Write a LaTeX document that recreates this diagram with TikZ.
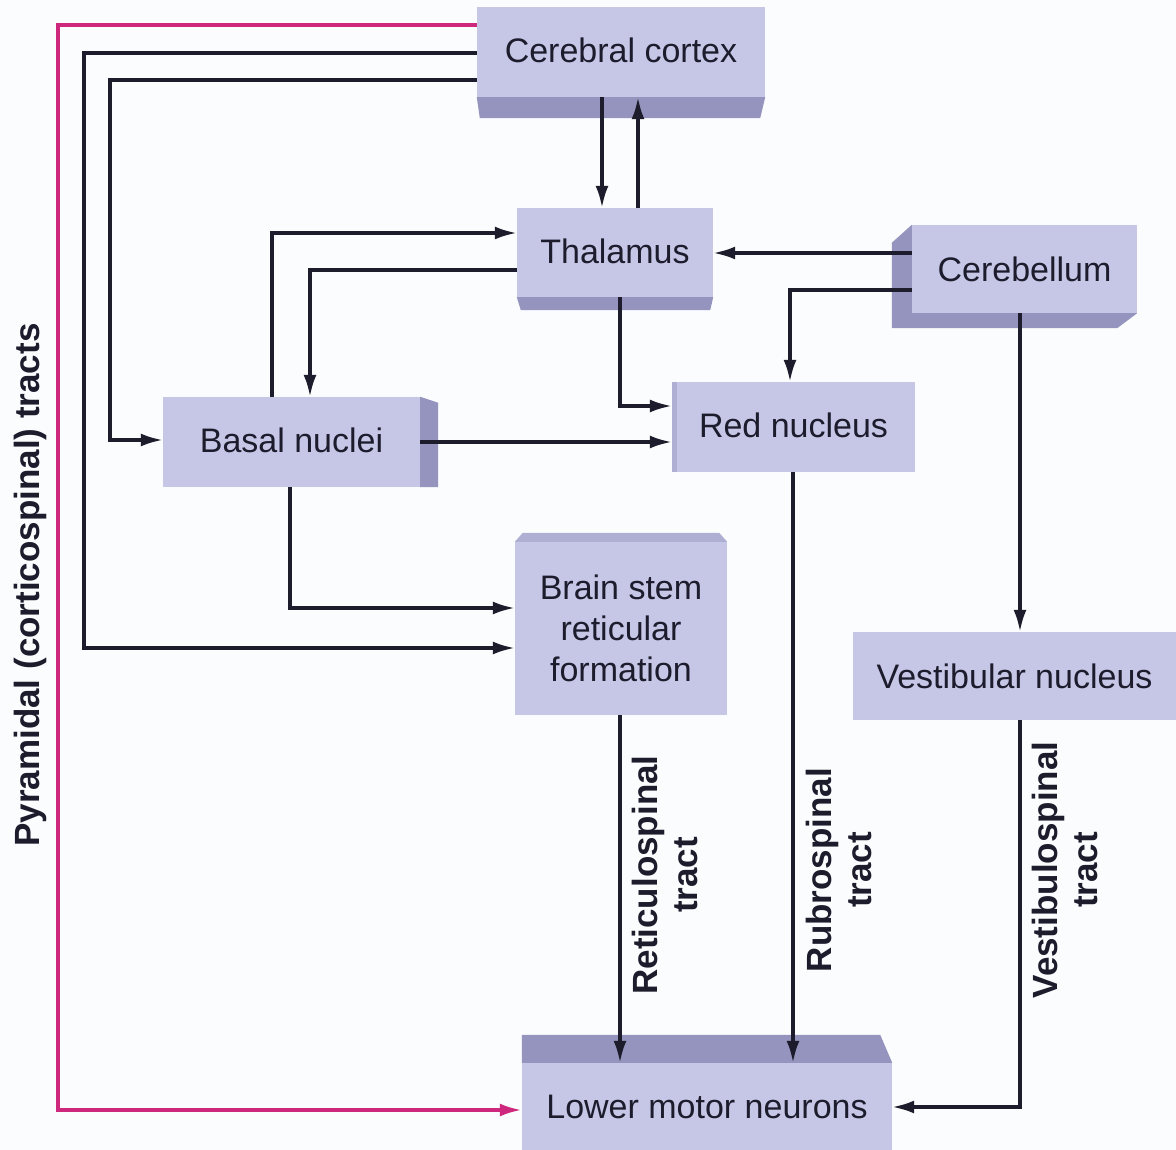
\documentclass[tikz,border=0pt]{standalone}
\usepackage{fontspec}
\setmainfont{Liberation Sans}
\usetikzlibrary{arrows.meta,calc}
\definecolor{face}{RGB}{198,198,231}
\definecolor{side}{RGB}{148,148,190}
\definecolor{edge}{RGB}{175,175,212}
\definecolor{ink}{RGB}{28,28,45}
\definecolor{pinkline}{RGB}{205,40,125}
\definecolor{bg}{RGB}{251,252,253}
\tikzset{
  box/.style={fill=face, draw=none, inner sep=0pt, align=center, text=ink,
    font=\fontsize{34}{41}\selectfont},
  sideface/.style={fill=side, draw=none},
  ar/.style={draw=ink, line width=3.2pt, -{Latex[length=22pt,width=13pt]}},
  pk/.style={draw=pinkline, line width=3.5pt, -{Latex[length=22pt,width=13pt]}},
  tractlabel/.style={rotate=90, align=center, text=ink, inner sep=0pt,
    font=\bfseries\fontsize{35}{40}\selectfont}
}
\begin{document}
\begin{tikzpicture}[x=1pt,y=-1pt]
\useasboundingbox[fill=bg] (0,0) rectangle (1176,1150);

% boxes
\node[box, minimum width=288pt, minimum height=90pt] (cortex) at (621,52) {\raisebox{3pt}{Cerebral cortex}};
\fill[sideface] (cortex.south west) -- (cortex.south east) -- ($(cortex.south east)+(-5,21)$) -- ($(cortex.south west)+(3,21)$) -- cycle;

\node[box, minimum width=196pt, minimum height=89pt] (th) at (615,252.5) {\raisebox{3pt}{Thalamus}};
\fill[sideface] (th.south west) -- (th.south east) -- ($(th.south east)+(-3,13)$) -- ($(th.south west)+(4,13)$) -- cycle;

\node[box, minimum width=225pt, minimum height=88pt] (cb) at (1024.5,269) {Cerebellum};
\fill[sideface] (cb.north west) -- ($(cb.north west)+(-20,18)$) -- ($(cb.south west)+(-20,15)$) -- ($(cb.south east)+(-20,15)$) -- (cb.south east) -- (cb.south west) -- cycle;

\node[box, minimum width=257pt, minimum height=90pt] (bn) at (291.5,442) {\raisebox{3pt}{Basal nuclei}};
\fill[sideface] (bn.north east) -- ($(bn.north east)+(18,6)$) -- ($(bn.south east)+(18,0)$) -- (bn.south east) -- cycle;

\node[box, minimum width=243pt, minimum height=90pt] (rn) at (793.5,427) {\raisebox{3pt}{Red nucleus}};
\fill[edge] (rn.north west) -- ($(rn.north west)+(5,0)$) -- ($(rn.south west)+(5,0)$) -- (rn.south west) -- cycle;

\node[box, minimum width=212pt, minimum height=173pt] (bs) at (621,628.5) {Brain stem\\reticular\\formation};
\fill[edge] (bs.north west) -- ($(bs.north west)+(8,-9)$) -- ($(bs.north east)+(-8,-9)$) -- (bs.north east) -- cycle;

\node[box, minimum width=323pt, minimum height=88pt] (vn) at (1014.5,676) {Vestibular nucleus};

\node[box, minimum width=370pt, minimum height=87pt] (lmn) at (707,1106.5) {Lower motor neurons};
\fill[sideface] (lmn.north west) -- ($(lmn.north west)+(0,-28)$) -- ($(lmn.north east)+(-12,-28)$) -- (lmn.north east) -- cycle;

% connectors
\draw[pk] (cortex.west |- 0,25) -- (58,25) |- (lmn.west |- 0,1110);
\draw[ar] (cortex.west |- 0,53) -- (84,53) |- (bs.west |- 0,648);
\draw[ar] (cortex.west |- 0,80) -- (110,80) |- (bn.west |- 0,440);
\draw[ar] (cortex.south -| 602,0) -- (th.north -| 602,0);
\draw[ar] (th.north -| 638,0) -- (cortex.south -| 638,0);
\draw[ar] (bn.north -| 272,0) |- (th.west |- 0,233);
\draw[ar] (th.west |- 0,270) -| (bn.north -| 310,0);
\draw[ar] (cb.west |- 0,253) -- (th.east |- 0,253);
\draw[ar] (cb.west |- 0,290) -| (rn.north -| 790,0);
\draw[ar] (th.south -| 620,0) |- (rn.west |- 0,406);
\draw[ar] (bn.east |- 0,442) -- (rn.west |- 0,442);
\draw[ar] (bn.south -| 290,0) |- (bs.west |- 0,608);
\draw[ar] (cb.south -| 1020,0) -- (vn.north -| 1020,0);
\draw[ar] (bs.south -| 620,0) -- (lmn.north -| 620,0);
\draw[ar] (rn.south -| 793,0) -- (lmn.north -| 793,0);
\draw[ar] (vn.south -| 1020,0) |- (lmn.east |- 0,1107);

% tract labels
\node[tractlabel] (ret) at (665,875) {Reticulospinal\\tract};
\node[tractlabel] (rub) at (839,870) {Rubrospinal\\tract};
\node[tractlabel] (ves) at (1065,870) {Vestibulospinal\\tract};
\node[tractlabel] (pyr) at (30,585) {Pyramidal (corticospinal) tracts};
\end{tikzpicture}
\end{document}
